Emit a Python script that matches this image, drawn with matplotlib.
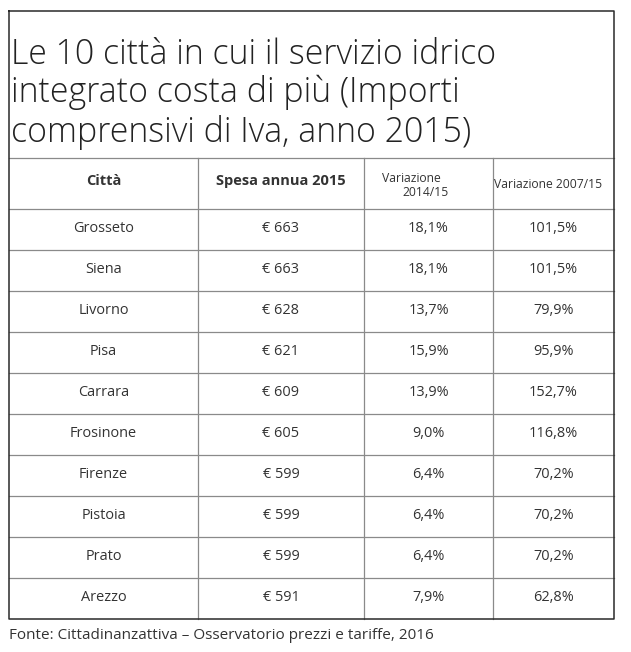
import matplotlib
matplotlib.use("Agg")
import matplotlib.pyplot as plt

cities = ["Grosseto", "Siena", "Livorno", "Pisa", "Carrara", "Frosinone",
          "Firenze", "Pistoia", "Prato", "Arezzo"]
spesa_2015 = [663, 663, 628, 621, 609, 605, 599, 599, 599, 591]
var_2014_15 = [18.1, 18.1, 13.7, 15.9, 13.9, 9.0, 6.4, 6.4, 6.4, 7.9]
var_2007_15 = [101.5, 101.5, 79.9, 95.9, 152.7, 116.8, 70.2, 70.2, 70.2, 62.8]

title_lines = ["Le 10 città in cui il servizio idrico",
               "integrato costa di più (Importi",
               "comprensivi di Iva, anno 2015)"]
source = "Fonte: Cittadinanzattiva \u2013 Osservatorio prezzi e tariffe, 2016"

W, H = 631, 652
FONT = "Open Sans"
TXT = "#333333"

fig = plt.figure(figsize=(W / 100, H / 100), dpi=100)
ax = fig.add_axes([0, 0, 1, 1])
ax.set_xlim(0, W)
ax.set_ylim(H, 0)
ax.axis("off")
renderer = fig.canvas.get_renderer()


def fit(x, y, s, width, **kw):
    # set font size so the rendered text is `width` pixels wide
    t = ax.text(x, y, s, fontsize=10, family=FONT, **kw)
    w = t.get_window_extent(renderer).width
    t.set_fontsize(10 * width / w)
    return t.get_fontsize()


def pct(v):
    return ("%.1f%%" % v).replace(".", ",")


# column edges and rows
cols = [9, 198, 364, 493, 614]
top, title_bot, head_bot, row_h = 11, 158, 209, 41
bottom = head_bot + row_h * len(cities)

# title
tsize = fit(11, 63.5, title_lines[0], 485, va="baseline", color="#222222",
            weight="light")
for k, line in enumerate(title_lines[1:], start=1):
    ax.text(11, 63.5 + 39 * k, line, fontsize=tsize, family=FONT,
            va="baseline", color="#222222", weight="light")

# header
centers = [(cols[i] + cols[i + 1]) / 2 for i in range(4)]
hsize = fit(centers[1], 185, "Spesa annua 2015", 130, ha="center",
            va="baseline", weight="bold", color=TXT)
ax.text(centers[0], 185, "Città", fontsize=hsize, family=FONT, ha="center",
        va="baseline", weight="bold", color=TXT)
ssize = fit(494, 188, "Variazione 2007/15", 109, va="baseline", color=TXT)
ax.text(382, 182, "Variazione", fontsize=ssize, family=FONT, va="baseline",
        color=TXT)
ax.text(402, 196, "2014/15", fontsize=ssize, family=FONT, va="baseline",
        color=TXT)

# body
bsize = fit(centers[0], head_bot + 23, cities[0], 61, ha="center",
            va="baseline", color=TXT)
for i in range(len(cities)):
    y = head_bot + row_h * i + 23
    vals = [cities[i], "\u20ac %d" % spesa_2015[i], pct(var_2014_15[i]),
            pct(var_2007_15[i])]
    for j, s in enumerate(vals):
        if i == 0 and j == 0:
            continue
        ax.text(centers[j], y, s, fontsize=bsize, family=FONT, ha="center",
                va="baseline", color=TXT)

# grid lines
grey = "#8a8a8a"
ax.plot([cols[0], cols[-1]], [title_bot, title_bot], color=grey, lw=0.9)
for r in range(len(cities)):
    y = head_bot + row_h * r
    ax.plot([cols[0], cols[-1]], [y, y], color=grey, lw=0.9)
for x in cols[1:-1]:
    ax.plot([x, x], [title_bot, bottom], color=grey, lw=0.9)
ax.plot([cols[0], cols[-1], cols[-1], cols[0], cols[0]],
        [top, top, bottom, bottom, top], color="#2a2a2a", lw=1.1)

# source
fit(9, 639, source, 425, va="baseline", color=TXT)

fig.savefig("out.png", dpi=100, facecolor="white")
